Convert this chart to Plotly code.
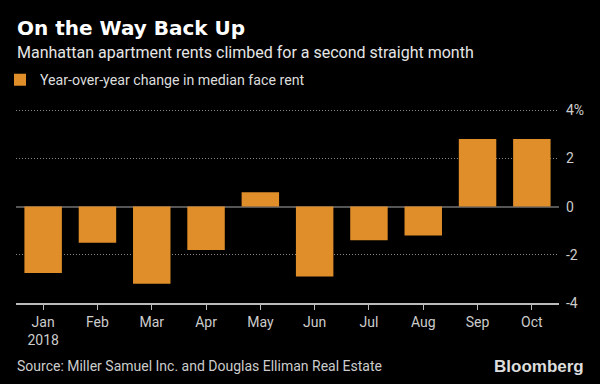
import plotly.graph_objects as go

months = ["Jan", "Feb", "Mar", "Apr", "May", "Jun", "Jul", "Aug", "Sep", "Oct"]
month_labels = ["Jan<br>2018", "Feb", "Mar", "Apr", "May", "Jun", "Jul", "Aug", "Sep", "Oct"]
yoy_change = [-2.75, -1.5, -3.2, -1.8, 0.6, -2.9, -1.4, -1.2, 2.8, 2.8]
y_ticks = [-4, -2, 0, 2, 4]
y_tick_text = ["-4", "-2", "0", "2", "4%"]

BAR = "#E08E2A"
FONT = "Roboto"

fig = go.Figure()
fig.add_trace(go.Bar(
    x=months, y=yoy_change, marker=dict(color=BAR, line=dict(width=0)),
    name="Year-over-year change in median face rent", showlegend=True,
))

W, H = 600, 384
L, R, T, B = 16, 41, 109, 81
pw, ph = W - L - R, H - T - B

def px(x):
    return (x - L) / pw

def py(y):
    return (H - B - y) / ph

fig.update_layout(
    width=W, height=H,
    margin=dict(l=L, r=R, t=T, b=B, autoexpand=False),
    paper_bgcolor="#000000", plot_bgcolor="#000000",
    bargap=0.31,
    font=dict(family=FONT, color="#cccccc", size=13),
    showlegend=True,
    legend=dict(xref="container", yref="container", x=0, y=1 - 80 / H,
                xanchor="left", yanchor="middle",
                font=dict(size=14.2, color="#dddddd", family=FONT),
                bgcolor="rgba(0,0,0,0)", itemclick=False, itemdoubleclick=False),
    xaxis=dict(
        type="category", tickmode="array", tickvals=months, ticktext=month_labels,
        showline=True, linecolor="#bbbbbb", linewidth=1.5,
        ticks="outside", ticklen=5, tickcolor="#bbbbbb", tickwidth=1,
        showgrid=False, zeroline=False,
        tickfont=dict(size=14, color="#cccccc", family=FONT),
        fixedrange=True,
    ),
    yaxis=dict(
        side="right", range=[-4, 4.05], tickvals=y_ticks, ticktext=y_tick_text,
        showgrid=True, gridcolor="#8a8a8a", griddash="1px,2px", gridwidth=1,
        zeroline=True, zerolinecolor="#555555", zerolinewidth=2,
        showline=False, ticks="", ticklabelstandoff=6,
        tickfont=dict(size=14, color="#cccccc", family=FONT),
        fixedrange=True,
    ),
    annotations=[
        dict(text="<b>On the Way Back Up</b>", x=px(15), y=py(28), xref="paper", yref="paper",
             xanchor="left", yanchor="middle", showarrow=False,
             font=dict(size=20, color="#ffffff", family="DejaVu Sans")),
        dict(text="Manhattan apartment rents climbed for a second straight month", x=px(15), y=py(53),
             xref="paper", yref="paper", xanchor="left", yanchor="middle", showarrow=False,
             font=dict(size=16, color="#e6e6e6", family=FONT)),
        dict(text="Source: Miller Samuel Inc. and Douglas Elliman Real Estate", x=px(15), y=py(366),
             xref="paper", yref="paper", xanchor="left", yanchor="middle", showarrow=False,
             font=dict(size=14, color="#cccccc", family=FONT)),
        dict(text="<b>Bloomberg</b>", x=px(586), y=py(366),
             xref="paper", yref="paper", xanchor="right", yanchor="middle", showarrow=False,
             font=dict(size=17, color="#dddddd", family="Liberation Sans")),
    ],
)

fig.write_html("out.html", config={"displayModeBar": False},
               post_script="document.body.style.margin='0';document.body.style.overflow='hidden';")
